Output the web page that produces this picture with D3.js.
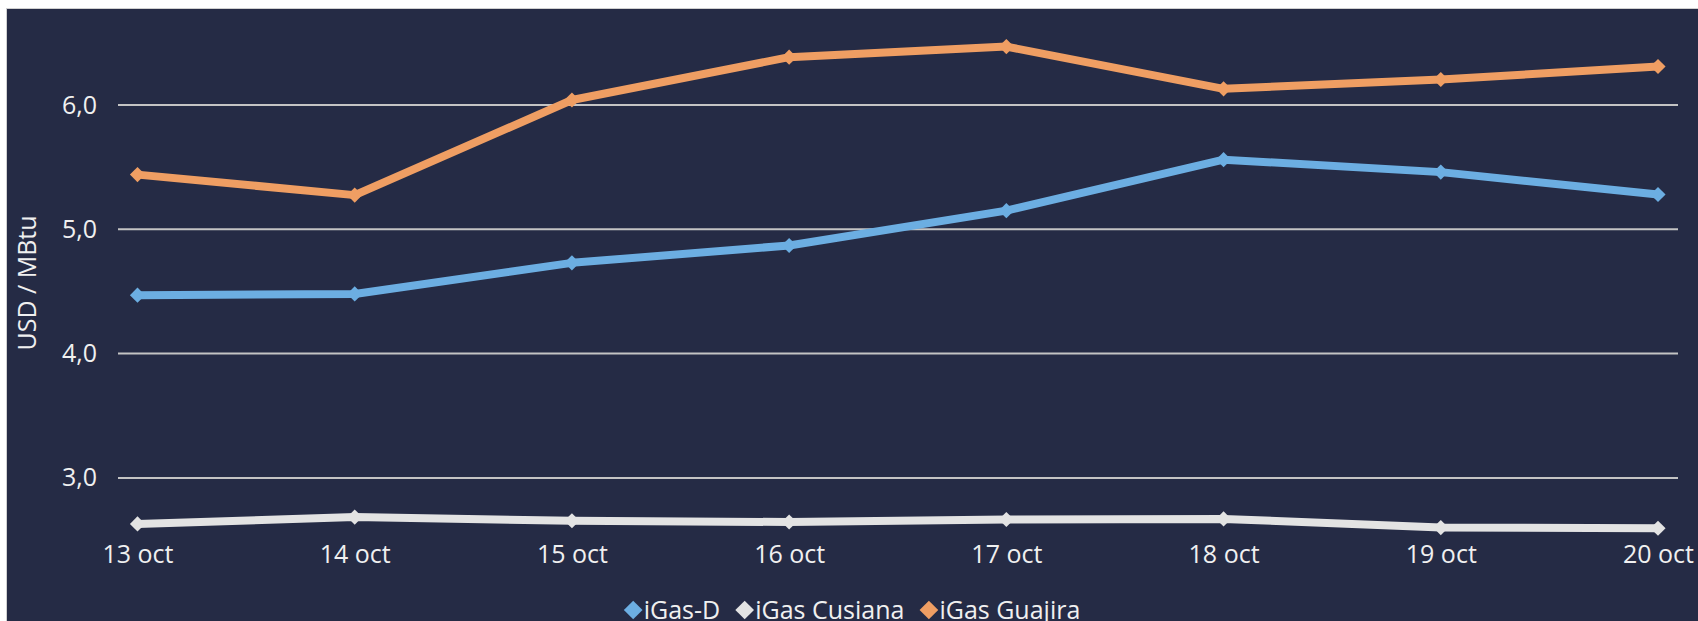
<!DOCTYPE html>
<html>
<head>
<meta charset="utf-8">
<script src="https://cdn.jsdelivr.net/npm/d3@7/dist/d3.min.js"></script>
<style>
  html, body { margin: 0; padding: 0; background: #ffffff; }
  svg { display: block; }
  text { font-family: "Open Sans", "Noto Sans", sans-serif; }
</style>
</head>
<body>
<svg id="chart" width="1698" height="621"></svg>
<script>
// ---- data ----
const categories = ["13 oct", "14 oct", "15 oct", "16 oct", "17 oct", "18 oct", "19 oct", "20 oct"];
const igasD       = [4.47, 4.48, 4.73, 4.87, 5.15, 5.56, 5.46, 5.28];
const igasCusiana = [2.63, 2.685, 2.655, 2.645, 2.665, 2.67, 2.60, 2.595];
const igasGuajira = [5.44, 5.275, 6.04, 6.385, 6.47, 6.13, 6.205, 6.31];
const yTicks = [3, 4, 5, 6];
const seriesNames = ["iGas-D", "iGas Cusiana", "iGas Guajira"];
const seriesColors = ["#6caee2", "#e3e3e3", "#ef9e63"];
const yTitle = "USD / MBtu";

const series = [
  { name: seriesNames[0], values: igasD, color: seriesColors[0] },
  { name: seriesNames[1], values: igasCusiana, color: seriesColors[1] },
  { name: seriesNames[2], values: igasGuajira, color: seriesColors[2] }
];

const svg = d3.select("#chart");
const W = 1698, H = 621;

// background panel
svg.append("rect")
  .attr("x", 6.5).attr("y", 8.5)
  .attr("width", W - 6).attr("height", H)
  .attr("fill", "#252b45")
  .attr("stroke", "#d0d0d0").attr("stroke-width", 1);

// scales
const x = d3.scalePoint().domain(categories).range([137.5, 1658]);
const y = d3.scaleLinear().domain([2.5, 6.5]).range([105 + 3.5 * 124.3, 105 - 0.5 * 124.3]);
const gridX1 = 118, gridX2 = 1678;

const locale = d3.formatLocale({ decimal: ",", thousands: ".", grouping: [3], currency: ["$", ""] });
const fmt = locale.format(".1f");

// gridlines
svg.append("g").selectAll("line").data(yTicks).join("line")
  .attr("x1", gridX1).attr("x2", gridX2)
  .attr("y1", d => y(d)).attr("y2", d => y(d))
  .attr("stroke", "#c4c4c4").attr("stroke-width", 2);

// y axis labels
const yAxis = svg.append("g")
  .attr("transform", `translate(${gridX1},0)`)
  .call(d3.axisLeft(y).tickValues(yTicks).tickFormat(fmt).tickSize(0).tickPadding(21));
yAxis.select(".domain").remove();
yAxis.selectAll("text")
  .attr("fill", "#f0f0f0")
  .style("font-size", "25px")
  .style("font-family", "'Open Sans', 'Noto Sans', sans-serif");

// x axis labels
const xAxis = svg.append("g")
  .attr("transform", `translate(0,${545})`)
  .call(d3.axisBottom(x).tickSize(0).tickPadding(0));
xAxis.select(".domain").remove();
xAxis.selectAll("text")
  .attr("fill", "#f0f0f0")
  .attr("dy", "0.71em")
  .style("font-size", "25px")
  .style("font-family", "'Open Sans', 'Noto Sans', sans-serif");

// y title
svg.append("text")
  .attr("transform", `translate(36,283) rotate(-90)`)
  .attr("text-anchor", "middle")
  .attr("fill", "#f0f0f0")
  .style("font-size", "25px")
  .text(yTitle);

// lines
const line = d3.line()
  .x((d, i) => x(categories[i]))
  .y(d => y(d));

const diamond = d3.symbol().type(d3.symbolSquare).size(115);

series.forEach(s => {
  const g = svg.append("g");
  g.append("path")
    .datum(s.values)
    .attr("d", line)
    .attr("fill", "none")
    .attr("stroke", s.color)
    .attr("stroke-width", 8)
    .attr("stroke-linejoin", "round");
  g.selectAll("path.m").data(s.values).join("path")
    .attr("class", "m")
    .attr("d", diamond)
    .attr("transform", (d, i) => `translate(${x(categories[i])},${y(d)}) rotate(45)`)
    .attr("fill", s.color);
});

// legend
const legend = svg.append("g");
const legendDiamond = d3.symbol().type(d3.symbolSquare).size(175);
let cx = 0;
series.forEach((s, i) => {
  const it = legend.append("g");
  it.append("path")
    .attr("d", legendDiamond)
    .attr("transform", `translate(${cx + 9.5},0) rotate(45)`)
    .attr("fill", s.color);
  const t = it.append("text")
    .attr("x", cx + 20)
    .attr("y", 0)
    .attr("dy", "0.35em")
    .attr("fill", "#f0f0f0")
    .style("font-size", "25px")
    .text(s.name);
  const w = t.node().getComputedTextLength();
  cx += 20 + w + 15;
});
const totalW = cx - 15;
legend.attr("transform", `translate(${852 - totalW / 2},${610})`);
</script>
</body>
</html>
